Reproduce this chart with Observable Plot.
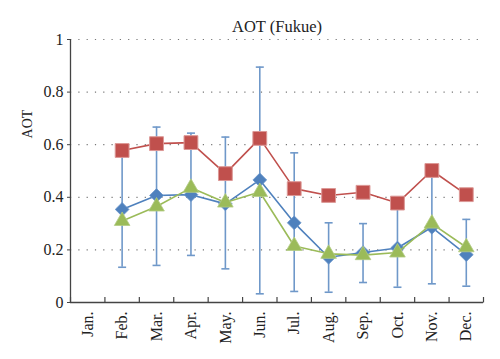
<!DOCTYPE html>
<html><head><meta charset="utf-8">
<script src="https://cdn.jsdelivr.net/npm/d3@7"></script>
<script src="https://cdn.jsdelivr.net/npm/@observablehq/plot@0.6"></script>
<style>
body{margin:0;background:#fff}
#chart svg{display:block}
#chart svg, #chart svg text{font-family:"Liberation Serif","Times New Roman",serif !important}
</style>
</head><body><div id="chart"></div>
<script>
const months = ["Jan.","Feb.","Mar.","Apr.","May.","Jun.","Jul.","Aug.","Sep.","Oct.","Nov.","Dec."];
// red squares
const seriesRed   = [null, 0.578, 0.604, 0.608, 0.490, 0.624, 0.433, 0.407, 0.419, 0.378, 0.502, 0.410];
// blue diamonds (with error bars)
const seriesBlue  = [null, 0.354, 0.407, 0.410, 0.375, 0.466, 0.303, 0.172, 0.190, 0.207, 0.286, 0.182];
const errLow      = [null, 0.134, 0.141, 0.179, 0.128, 0.033, 0.042, 0.039, 0.076, 0.058, 0.071, 0.062];
const errHigh     = [null, 0.570, 0.667, 0.644, 0.629, 0.895, 0.569, 0.303, 0.300, 0.370, 0.500, 0.316];
// green triangles
const seriesGreen = [null, 0.310, 0.365, 0.436, 0.380, 0.420, 0.215, 0.185, 0.180, 0.190, 0.300, 0.210];
const yTicks = [0, 0.2, 0.4, 0.6, 0.8, 1];

const rows = months.map((m, i) => ({
  i, month: m, red: seriesRed[i], blue: seriesBlue[i], green: seriesGreen[i],
  lo: errLow[i], hi: errHigh[i]
})).filter(d => d.blue != null);

const cx = d => d.i + 0.5;
const capSymbol = {draw(ctx) { ctx.moveTo(-4, 0); ctx.lineTo(4, 0); }};
const tickUp = {draw(ctx) { ctx.moveTo(0, 0); ctx.lineTo(0, -5.5); }};

const RED = "#c0504d", BLUE = "#4f81bd", GREEN = "#9bbb59", ERR = "#6f98c9";
const FONT = "Liberation Serif";

const chart = Plot.plot({
  width: 500, height: 359,
  marginLeft: 70, marginRight: 17, marginTop: 39, marginBottom: 57,
  style: {fontFamily: FONT, fontSize: "16px", color: "#222", background: "#fff"},
  x: {type: "linear", domain: [0, 12], axis: null},
  y: {domain: [0, 1], axis: null},
  marks: [
    Plot.ruleY(yTicks.filter(v => v > 0), {stroke: "#777", strokeWidth: 1.2, strokeDasharray: "1.2,7.1"}),
    Plot.ruleX(rows, {x: cx, y1: "lo", y2: "hi", stroke: ERR, strokeWidth: 1.6}),
    Plot.dot(rows, {x: cx, y: "hi", symbol: capSymbol, stroke: ERR, strokeWidth: 1.6, fill: "none", r: 4}),
    Plot.dot(rows, {x: cx, y: "lo", symbol: capSymbol, stroke: ERR, strokeWidth: 1.6, fill: "none", r: 4}),
    Plot.line(rows, {x: cx, y: "blue", stroke: BLUE, strokeWidth: 1.6}),
    Plot.dot(rows, {x: cx, y: "blue", symbol: "diamond2", r: 6.2, fill: BLUE, stroke: "#6a95cb", strokeWidth: 0.8}),
    Plot.line(rows, {x: cx, y: "green", stroke: GREEN, strokeWidth: 1.6}),
    Plot.dot(rows, {x: cx, y: "green", symbol: "triangle", r: 5.8, fill: GREEN, stroke: "#b3cc84", strokeWidth: 0.8}),
    Plot.line(rows, {x: cx, y: "red", stroke: RED, strokeWidth: 1.6}),
    Plot.dot(rows, {x: cx, y: "red", symbol: "square", r: 7.8, fill: RED, stroke: "#dc9896", strokeWidth: 1}),
    // axis lines
    Plot.ruleX([0], {stroke: "#444", strokeWidth: 1.3}),
    Plot.ruleY([0], {stroke: "#444", strokeWidth: 1.3}),
    Plot.dot(d3.range(13), {x: d => d, y: 0, symbol: tickUp, stroke: "#444", strokeWidth: 1.2, fill: "none", r: 3}),
    Plot.axisY({ticks: yTicks, tickFormat: d => String(d), tickSize: 3, tickPadding: 4, fontSize: 16, fontFamily: FONT, label: null, stroke: "#444"}),
    Plot.text(months, {x: (d, i) => i + 0.5, frameAnchor: "bottom", rotate: -90, textAnchor: "end", lineAnchor: "middle", dy: 9, fontSize: 16, fontFamily: FONT, fill: "#222"}),
    Plot.text(["AOT (Fukue)"], {frameAnchor: "top", textAnchor: "middle", lineAnchor: "middle", dy: -12.5, fontSize: 16.5, fontFamily: FONT, fill: "#222"}),
    Plot.text(["AOT"], {frameAnchor: "left", textAnchor: "middle", lineAnchor: "middle", dx: -43, dy: -47, rotate: -90, fontSize: 14, fontFamily: FONT, fill: "#222"})
  ]
});
document.getElementById("chart").append(chart);
</script>
</body></html>
